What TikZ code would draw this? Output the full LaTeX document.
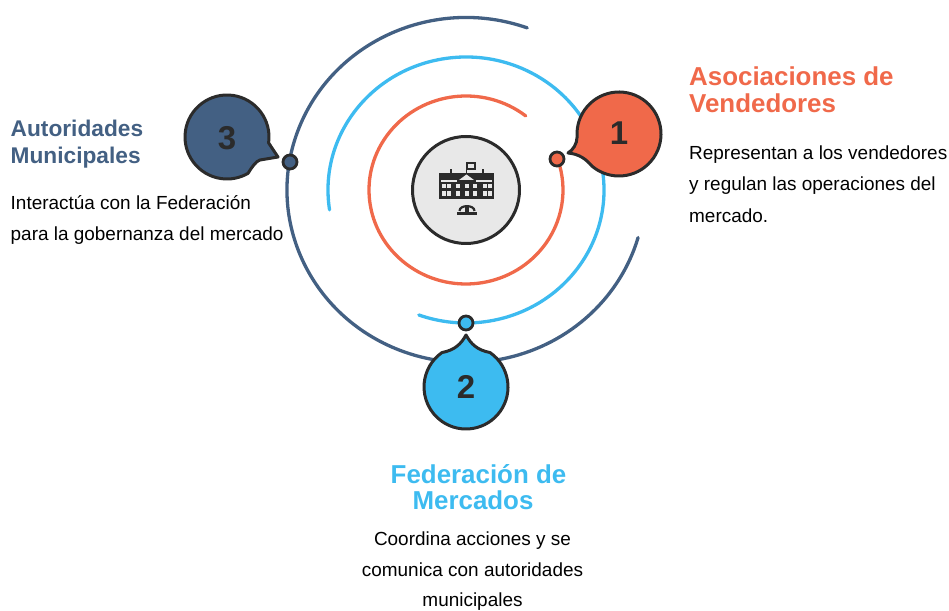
\documentclass[tikz,border=0pt]{standalone}
\usepackage{fontspec}
\setmainfont{Liberation Sans}
\definecolor{orangec}{HTML}{F0694A}
\definecolor{bluec}{HTML}{3DBBF0}
\definecolor{navyc}{HTML}{436083}
\definecolor{darkc}{HTML}{2B2B2B}
\definecolor{greyc}{HTML}{E8E8E8}
\tikzset{
  ring/.style={line width=3.3pt,line cap=round},
  dotmark/.style={circle,draw=darkc,line width=2.8pt,minimum size=14pt,inner sep=0pt},
  bubble/.style={draw=darkc,line width=3pt,line join=round},
  num/.style={font=\fontsize{33}{33}\selectfont\bfseries,text=darkc},
  ttl/.style={font=\fontsize{25.9}{26.8}\selectfont\bfseries,align=left,anchor=north west,inner sep=0pt},
  body/.style={font=\fontsize{18.95}{31.4}\selectfont,text=black,inner sep=0pt},
  win/.style={fill=greyc,draw=none},
  iconf/.style={fill=darkc,draw=none}
}
\begin{document}
\begin{tikzpicture}[x=1pt,y=1pt]
\useasboundingbox (0,0) rectangle (949,610);
% rings
\draw[ring,navyc] (466,420) ++(70:179 and 172.5) arc[start angle=70,end angle=344,x radius=179,y radius=172.5];
\draw[ring,bluec] (466,420) ++(188.6:138 and 133) arc[start angle=188.6,end angle=-110,x radius=138,y radius=133];
\draw[ring,orangec] (466,420) ++(52:97 and 94) arc[start angle=52,end angle=379,x radius=97,y radius=94];
% hub
\node[circle,draw=darkc,fill=greyc,line width=3pt,minimum size=107pt,inner sep=0pt] (hub) at (466,420) {};
% icon (image coordinates)
\begin{scope}[shift={(0,610)},yscale=-1]
  \fill[iconf] (439,173) rectangle (494,199);
  \fill[iconf] (465.6,162) rectangle (467.4,173);
  \fill[iconf] (466,162) rectangle (476,170);
  \fill[win] (468.2,164.2) rectangle (473.8,167.8);
  \fill[iconf] (449.5,169) rectangle (451.5,174);
  \fill[iconf] (482,169) rectangle (484,174);
  \fill[win] (441,180.5) rectangle (457,182);
  \fill[win] (476,180.5) rectangle (492,182);
  \fill[win] (466.5,174.5) -- (474,180) -- (459,180) -- cycle;
  \foreach \x/\w in {442/3.5,447/3.5,456/4,464.5/4,473/4,483/3.5,488/3.5}{
    \fill[win] (\x,184) rectangle ++(\w,3.6);
    \fill[win] (\x,191.5) rectangle ++(\w,5);
  }
  \fill[iconf] (457,212.5) rectangle (477,215.5);
  \fill[iconf] (465,205) rectangle (468.5,213);
  \draw[darkc,line width=2.2pt] (459.5,211) .. controls (459.5,204.5) and (474.5,204.5) .. (474.5,211);
\end{scope}
% bubbles
\draw[bubble,fill=orangec] (619,476) ++(-130:42) arc[start angle=-130,end angle=184,radius=42]
  .. controls (577,466) and (573,460) .. (568,457) .. controls (579,456) and (586,451) .. cycle;
\draw[bubble,fill=navyc] (227,473) ++(-8:42) arc[start angle=-8,end angle=300,radius=42]
  .. controls (252,443) and (256,449) .. (260,450) -- (278,453) -- cycle;
\draw[bubble,fill=bluec] (466,223) ++(55:42) arc[start angle=55,end angle=-235,radius=42]
  .. controls (455,260) and (461,266) .. (466,275) .. controls (471,266) and (477,260) .. cycle;
\node[num] (n1) at (619,477) {1};
\node[num] (n2) at (466,223) {2};
\node[num] (n3) at (227,472) {3};
% dots
\node[dotmark,fill=orangec] (d1) at (557,451) {};
\node[dotmark,fill=bluec] (d2) at (466,287) {};
\node[dotmark,fill=navyc] (d3) at (290,448) {};
% titles
\node[ttl,text=orangec] (t1) at (689,543) {Asociaciones de\\Vendedores};
\node[ttl,text=navyc,font=\fontsize{22.7}{27}\selectfont\bfseries] (t3) at (10.5,490) {Autoridades\\Municipales};
\node[ttl,text=bluec,align=center,anchor=north] (t2) at (478.5,146) {Federación de\\Mercados\hspace*{11pt}};
% bodies
\node[body,align=left,anchor=north west] (b1) at (689,464.5) {Representan a los vendedores\\y regulan las operaciones del\\mercado.};
\node[body,align=left,anchor=north west] (b3) at (10.5,415) {Interactúa con la Federación\\para la gobernanza del mercado};
\node[body,align=center,anchor=north,font=\fontsize{18.95}{30.6}\selectfont] (b2) at (472.5,78.5) {Coordina acciones y se\\comunica con autoridades\\municipales};
\end{tikzpicture}
\end{document}
